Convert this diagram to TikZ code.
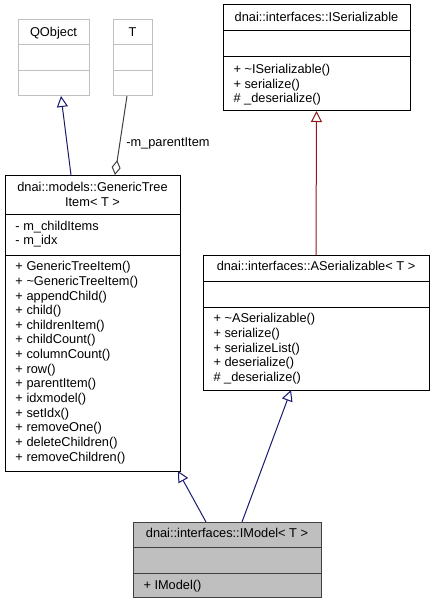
\documentclass[tikz,border=0pt]{standalone}
\usepackage{fontspec}
\setmainfont{Liberation Sans}
\usetikzlibrary{arrows.meta}

\definecolor{inhblue}{HTML}{191970}
\definecolor{inhred}{HTML}{8B1A1A}
\definecolor{usegray}{HTML}{404040}
\definecolor{extgray}{HTML}{BFBFBF}

\begin{document}
\begin{tikzpicture}[x = 1pt, y = -1pt, line width = 1pt,
  font = \fontsize{12.8}{14.65}\selectfont,
  cls/.style = {draw = black, fill = white, inner sep = 0pt, outer sep = 0pt},
  extcls/.style = {draw = extgray, fill = white, inner sep = 0pt, outer sep = 0pt},
  hdr/.style = {anchor = base, inner sep = 0pt},
  mem/.style = {anchor = base west, inner sep = 0pt},
  inh/.style = {-{Triangle[open, length = 11pt, width = 11pt]}},
  aggr/.style = {usegray, -{Diamond[open, length = 15pt, width = 9pt]}}]
  \useasboundingbox (0, 0) rectangle (435, 604);

  % 外部クラス
  \node[extcls, minimum width = 71pt, minimum height = 76pt] (qobject) at (53.5, 58) {};
  \draw[extgray] (18, 45)--(89, 45);
  \draw[extgray] (18, 71)--(89, 71);
  \node[hdr] (qobject-h) at (53.5, 36.5) {QObject};

  \node[extcls, minimum width = 39pt, minimum height = 76pt] (tparam) at (132.5, 58) {};
  \draw[extgray] (113, 45)--(152, 45);
  \draw[extgray] (113, 71)--(152, 71);
  \node[hdr] (tparam-h) at (132.5, 36.5) {T};

  % ISerializable
  \node[cls, minimum width = 187pt, minimum height = 106pt] (iser) at (316.5, 58) {};
  \draw (223, 31)--(410, 31);
  \draw (223, 57)--(410, 57);
  \node[hdr] (iser-h) at (316.5, 22) {dnai::interfaces::ISerializable};
  \foreach \m [count = \i from 0] in {+ \textasciitilde ISerializable(), + serialize(), \# \_deserialize()}
    \node[mem] (iser-m\i) at (233, {73.5 + \i * 14.65}) {\m};

  % GenericTreeItem
  \node[cls, minimum width = 175pt, minimum height = 296pt] (gti) at (92.5, 323) {};
  \draw (5, 214)--(180, 214);
  \draw (5, 255)--(180, 255);
  \node[hdr] (gti-h1) at (92.5, 191.5) {dnai::models::GenericTree};
  \node[hdr] (gti-h2) at (92.5, 206) {Item< T >};
  \foreach \a [count = \i from 0] in {- m\_childItems, - m\_idx}
    \node[mem] (gti-a\i) at (15, {230 + \i * 14.65}) {\a};
  \foreach \m [count = \i from 0] in {+ GenericTreeItem(), + \textasciitilde GenericTreeItem(),
      + appendChild(), + child(), + childrenItem(), + childCount(), + columnCount(),
      + row(), + parentItem(), + idxmodel(), + setIdx(), + removeOne(),
      + deleteChildren(), + removeChildren()}
    \node[mem] (gti-m\i) at (15, {270.7 + \i * 14.65}) {\m};

  % ASerializable
  \node[cls, minimum width = 226pt, minimum height = 135pt] (aser) at (316, 322.5) {};
  \draw (203, 281)--(429, 281);
  \draw (203, 307)--(429, 307);
  \node[hdr] (aser-h) at (316, 270.7) {dnai::interfaces::ASerializable< T >};
  \foreach \m [count = \i from 0] in {+ \textasciitilde ASerializable(), + serialize(),
      + serializeList(), + deserialize(), \# \_deserialize()}
    \node[mem] (aser-m\i) at (213, {322.7 + \i * 14.65}) {\m};

  % IModel
  \node[cls, draw = usegray, fill = extgray, minimum width = 188pt, minimum height = 75pt] (imodel) at (227, 559.5) {};
  \draw[usegray] (133, 547)--(321, 547);
  \draw[usegray] (133, 573)--(321, 573);
  \node[hdr] (imodel-h) at (227, 537.3) {dnai::interfaces::IModel< T >};
  \node[mem] (imodel-m0) at (143, 589.3) {+ IModel()};

  % 継承の矢印
  \draw[inh, inhblue] ([xshift = -21.5pt]gti.north)--([xshift = 7.5pt]qobject.south);
  \draw[inh, inhred] (aser.north)--(iser.south);
  \draw[inh, inhblue] ([xshift = -21pt]imodel.north)--([xshift = -2pt]gti.south east);
  \draw[inh, inhblue] ([xshift = 15pt]imodel.north)--([xshift = -25pt]aser.south);

  % 集約
  \draw[aggr] ([xshift = -5.5pt]tparam.south)--([xshift = 22.5pt]gti.north)
    node[pos = 0.64, anchor = base west, inner sep = 0pt, text = black, xshift = 6.5pt] (parent-l) {-m\_parentItem};

\end{tikzpicture}
\end{document}
